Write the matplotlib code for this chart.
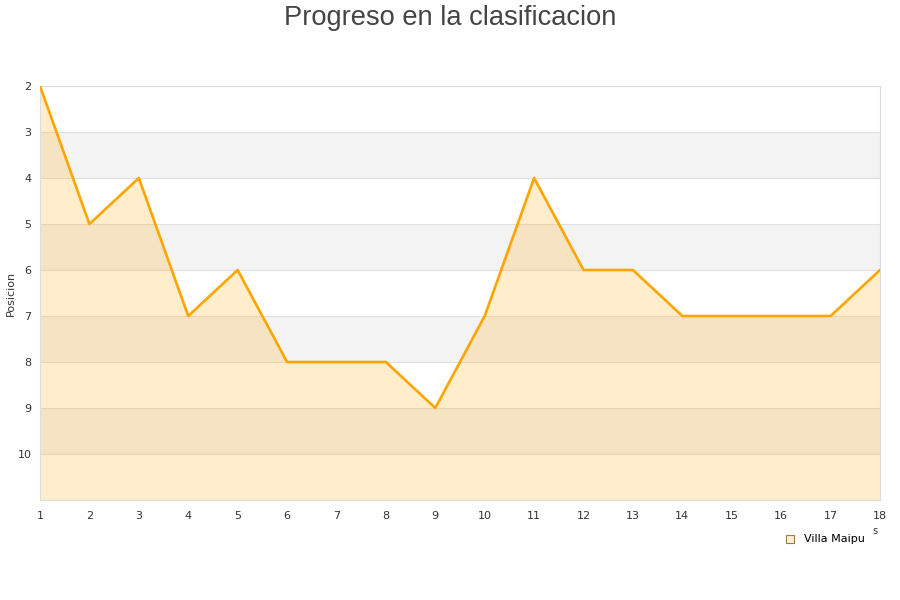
import matplotlib
matplotlib.use("Agg")
import matplotlib.pyplot as plt

# jornadas y posiciones
jornadas = list(range(1, 19))
posiciones = [2, 5, 4, 7, 6, 8, 8, 8, 9, 7, 4, 6, 6, 7, 7, 7, 7, 6]
equipo = "Villa Maipu"

fig = plt.figure(figsize=(9, 6), dpi=100)
ax = fig.add_axes([40 / 900, 1 - 500 / 600, 840 / 900, 414 / 600])

ax.set_xlim(1, 18)
ax.set_ylim(11, 2)

# bandas alternas
for y in range(3, 11, 2):
    ax.axhspan(y, y + 1, color="#f3f3f3", zorder=0, lw=0)
for y in range(2, 12):
    ax.axhline(y, color="#e0e0e0", lw=0.8, zorder=1)

ax.fill_between(jornadas, posiciones, 11, color="#FFA500", alpha=0.2, lw=0, zorder=2)
ax.plot(jornadas, posiciones, color="#FFA500", lw=1.9, zorder=3)

ax.set_xticks(jornadas)
ax.set_yticks(range(2, 11))
ax.tick_params(length=0, labelsize=8, colors="#333333")
ax.tick_params(axis="x", pad=8)
ax.tick_params(axis="y", pad=6)
for s in ax.spines.values():
    s.set_color("#dddddd")

fig.text(11 / 900, 1 - 293 / 600, "Posicion", fontsize=8, color="#333333",
         rotation=90, ha="center", va="center")
fig.text(875 / 900, 1 - 531 / 600, "s", fontsize=7, color="#333333", ha="center", va="center")

fig.suptitle("Progreso en la clasificacion", x=0.5, y=1 - 18 / 600, va="center",
             fontsize=19.6, color="#444444", family="Liberation Sans")

# leyenda
fig.patches.append(plt.Rectangle((786 / 900, 1 - 543 / 600), 8 / 900, 8 / 600,
                                 transform=fig.transFigure, facecolor="#ffefcc",
                                 edgecolor="#9a7b4a", lw=0.8))
fig.text(804 / 900, 1 - 539 / 600, equipo, fontsize=8, color="#000000", va="center")

fig.savefig("out.png", dpi=100)
